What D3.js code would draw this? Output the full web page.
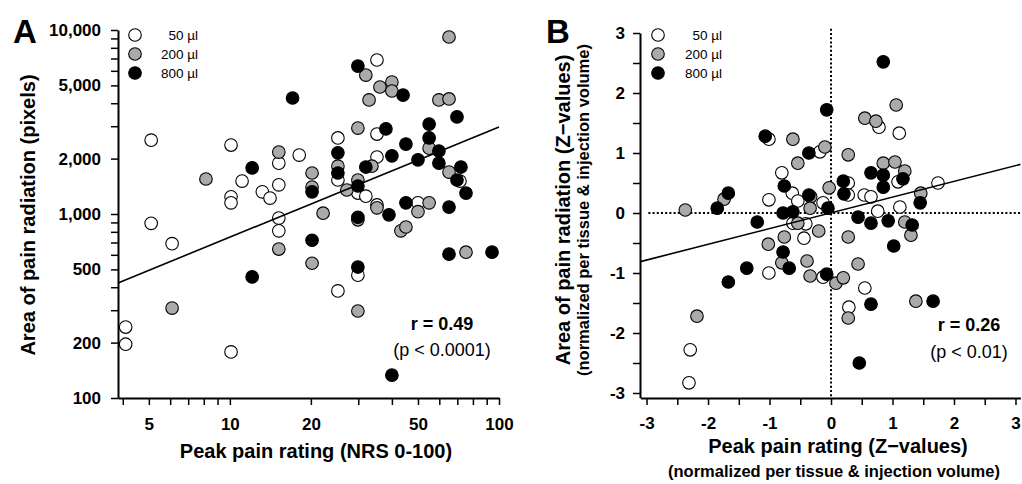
<!DOCTYPE html>
<html><head><meta charset="utf-8">
<script src="https://cdn.jsdelivr.net/npm/d3@7"></script>
<style>
body{margin:0;background:#fff;}
svg text{font-family:"Liberation Sans",Arial,sans-serif;}
</style></head>
<body><svg id="c" width="1022" height="484"></svg>
<script>
// ---------- DATA ----------
const groups = ["50 µl", "200 µl", "800 µl"];
const groupFill = ["#ffffff", "#aaaaaa", "#000000"];

// Panel A: Peak pain rating (NRS) vs area (pixels)
const aWhiteX = [4.1,4.1,5.1,5.1,6.1,10.1,10.1,10.1,11.1,10.1,13.2,14.1,15.2,15.2,15.2,15.2,18.1,25.2,25.2,25.2,29.9,32.0,29.9,35.2,35.2,35.2,35.2,50,71.6];
const aWhiteY = [243,196,2520,890,690,2370,1240,1150,1510,178,1320,1220,1890,1440,950,810,2090,2590,1530,382,1300,1250,465,6870,2720,2040,1120,1150,1510];
const aGrayX = [6.1,8.15,65.2,32.0,36.1,40,40,32.9,59.8,65.2,29.9,55,15.2,25.2,33.7,20.2,20.2,27.2,29.9,65.2,35.2,55,50,22.2,29.9,43.2,45.1,15.2,20.2,29.9,75.4];
const aGrayY = [308,1550,9160,5690,4900,5210,4660,4170,4170,4220,2930,2280,2170,1820,1820,1670,1400,1350,1530,1690,1080,1150,1030,1010,930,810,850,645,540,297,620];
const aBlackX = [12.1,12.1,17.1,29.9,44,69.8,38,55,55,45.1,59.8,25.2,40,50,59.8,72.2,32,25.2,20.2,29.9,69.8,75.4,39,45.1,65.2,29.9,20.2,29.9,65.2,94.2,40];
const aBlackY = [1780,455,4270,6370,4430,3370,2900,3080,2590,2400,2200,2150,2070,1970,1890,1800,1800,1670,1320,1420,1530,1300,990,1150,1090,960,720,515,605,620,133];
const aRegX = [3.84, 100];
const aRegY = [422, 2970];
const aXTickLabels = [5, 10, 20, 50, 100];
const aYTickLabels = [100, 200, 500, 1000, 2000, 5000, 10000];
const aStats = ["r = 0.49", "(p < 0.0001)"];

// Panel B: Z-values
const bWhiteX = [-1.01,-0.80,-0.63,-1.01,-0.54,-0.13,-0.62,-0.41,-0.44,-1.01,-0.13,-2.29,-2.31,-0.18,0.78,1.11,1.09,0.28,0.28,0.54,0.65,0.76,1.12,1.74,0.55,0.29];
const bWhiteY = [1.23,0.67,0.33,0.22,0.20,0.17,-0.17,-0.18,-0.42,-1.0,-1.07,-2.28,-2.83,1.02,1.43,1.33,0.52,0.50,0.30,0.30,0.27,0.03,0.10,0.50,-1.25,-1.57];
const bGrayX = [-2.37,-1.74,-0.62,-0.54,-0.10,-0.33,-0.34,-0.03,-0.54,-0.20,-1.02,-0.76,-0.80,-0.39,-0.34,-2.18,1.06,0.55,0.73,0.28,0.85,1.04,1.20,1.46,1.20,1.30,0.28,0.08,0.20,0.44,0.28,1.38];
const bGrayY = [0.05,0.23,1.23,0.83,1.10,0.27,0.08,0.42,-0.17,-0.30,-0.52,-0.40,-0.83,-0.80,-1.05,-1.72,1.80,1.58,1.53,0.97,0.83,0.85,0.70,0.33,-0.15,-0.37,-0.40,-1.17,-1.08,-0.85,-1.75,-1.47];
const bBlackX = [-1.85,-1.67,-1.20,-1.07,-0.36,-0.07,-0.76,-0.36,-0.78,-0.62,-0.78,-0.68,-0.07,-1.37,-1.67,0.85,0.65,0.85,1.17,0.85,0.20,0.21,1.45,-0.05,0.44,0.65,0.93,1.32,1.02,0.65,1.66,0.46];
const bBlackY = [0.08,0.33,-0.15,1.28,1.00,1.72,0.45,0.30,0.0,0.02,-0.65,-0.92,-1.02,-0.92,-1.15,2.52,0.67,0.63,0.57,0.43,0.53,0.32,0.17,0.08,-0.07,-0.17,-0.13,-0.20,-0.55,-1.52,-1.47,-2.50];
const bRegX = [-3.1, 3.08];
const bRegY = [-0.81, 0.81];
const bTickLabels = [-3, -2, -1, 0, 1, 2, 3];
const bStats = ["r = 0.26", "(p < 0.01)"];

// ---------- DRAW ----------
const svg = d3.select("#c");
const R = 6.3;

function styleAxis(g) {
  g.select(".domain").attr("stroke", "#000").attr("stroke-width", 2);
  g.selectAll(".tick line").attr("stroke", "#000").attr("stroke-width", 1.5);
  g.selectAll(".tick text").attr("font-size", 17).attr("font-weight", "bold").attr("fill", "#000")
    .attr("font-family", "'Liberation Sans',Arial,sans-serif");
}

function points(g, xs, ys, fill, x, y) {
  g.selectAll(null).data(xs.map((v, i) => [v, ys[i]])).enter().append("circle")
    .attr("cx", d => x(d[0])).attr("cy", d => y(d[1])).attr("r", R)
    .attr("fill", fill).attr("stroke", "#000").attr("stroke-width", 1.1);
}

function legend(cx, textRight) {
  groups.forEach((gname, i) => {
    const cy = 35 + i * 19;
    svg.append("circle").attr("cx", cx).attr("cy", cy).attr("r", R)
      .attr("fill", groupFill[i]).attr("stroke", "#000").attr("stroke-width", 1.1);
    svg.append("text").attr("x", textRight).attr("y", cy + 5).attr("text-anchor", "end")
      .attr("font-size", 13.5).text(gname);
  });
}

// ===== Panel A =====
const ax = d3.scaleLog().domain([3.84, 100]).range([118, 499]);
const ay = d3.scaleLog().domain([100, 10000]).range([398, 30]);

const aXTicks = [];
for (let v = 4; v <= 9; v++) aXTicks.push(v);
for (let v = 10; v <= 100; v += 10) aXTicks.push(v);
const aYTicks = [];
for (let v = 100; v < 1000; v += 100) aYTicks.push(v);
for (let v = 1000; v <= 10000; v += 1000) aYTicks.push(v);

const fmtA = d3.format(",");
svg.append("g").attr("transform", "translate(0,398)")
  .call(d3.axisBottom(ax).tickValues(aXTicks).tickSize(7).tickSizeOuter(0).tickPadding(13)
    .tickFormat(d => aXTickLabels.includes(d) ? String(d) : ""))
  .call(styleAxis);
svg.append("g").attr("transform", "translate(118,0)")
  .call(d3.axisLeft(ay).tickValues(aYTicks).tickSize(7).tickSizeOuter(0).tickPadding(10)
    .tickFormat(d => aYTickLabels.includes(d) ? fmtA(d) : ""))
  .call(styleAxis);

const aPts = svg.append("g");
points(aPts, aWhiteX, aWhiteY, groupFill[0], ax, ay);
points(aPts, aGrayX, aGrayY, groupFill[1], ax, ay);
points(aPts, aBlackX, aBlackY, groupFill[2], ax, ay);

svg.append("line").attr("x1", ax(aRegX[0])).attr("y1", ay(aRegY[0]))
  .attr("x2", ax(aRegX[1])).attr("y2", ay(aRegY[1])).attr("stroke", "#000").attr("stroke-width", 1.6);

svg.append("text").attr("x", 442).attr("y", 330).attr("text-anchor", "middle")
  .attr("font-size", 18).attr("font-weight", "bold").text(aStats[0]);
svg.append("text").attr("x", 442).attr("y", 356).attr("text-anchor", "middle")
  .attr("font-size", 18).text(aStats[1]);

legend(135, 198);

svg.append("text").attr("x", 13).attr("y", 43).attr("font-size", 33).attr("font-weight", "bold").text("A");
svg.append("text").attr("transform", "translate(35,215) rotate(-90)").attr("text-anchor", "middle")
  .attr("font-size", 20).attr("font-weight", "bold").text("Area of pain radiation (pixels)");
svg.append("text").attr("x", 316).attr("y", 458).attr("text-anchor", "middle")
  .attr("font-size", 20).attr("font-weight", "bold").text("Peak pain rating (NRS 0-100)");

// ===== Panel B =====
const bx = d3.scaleLinear().domain([-3.1, 3.08]).range([640.4, 1020.4]);
const by = d3.scaleLinear().domain([-3.08, 3]).range([397.8, 33]);
const bTicks = d3.range(-3, 3.01, 0.5);

svg.append("g").attr("transform", "translate(0,398)")
  .call(d3.axisBottom(bx).tickValues(bTicks).tickSize(7).tickSizeOuter(0).tickPadding(12)
    .tickFormat(d => bTickLabels.includes(d) ? String(d) : ""))
  .call(styleAxis);
svg.append("g").attr("transform", "translate(640,0)")
  .call(d3.axisLeft(by).tickValues(bTicks).tickSize(7).tickSizeOuter(0).tickPadding(8)
    .tickFormat(d => bTickLabels.includes(d) ? String(d) : ""))
  .call(styleAxis);

// dotted zero lines
svg.append("line").attr("x1", bx(-2.97)).attr("x2", bx(3.08)).attr("y1", by(0)).attr("y2", by(0))
  .attr("stroke", "#000").attr("stroke-width", 2).attr("stroke-dasharray", "2,2.2");
svg.append("line").attr("x1", bx(0)).attr("x2", bx(0)).attr("y1", by(3.07)).attr("y2", by(-3.08))
  .attr("stroke", "#000").attr("stroke-width", 2).attr("stroke-dasharray", "2,2.2");

const bPts = svg.append("g");
points(bPts, bWhiteX, bWhiteY, groupFill[0], bx, by);
points(bPts, bGrayX, bGrayY, groupFill[1], bx, by);
points(bPts, bBlackX, bBlackY, groupFill[2], bx, by);

svg.append("line").attr("x1", bx(bRegX[0])).attr("y1", by(bRegY[0]))
  .attr("x2", bx(bRegX[1])).attr("y2", by(bRegY[1])).attr("stroke", "#000").attr("stroke-width", 1.6);

svg.append("text").attr("x", 969).attr("y", 331).attr("text-anchor", "middle")
  .attr("font-size", 18).attr("font-weight", "bold").text(bStats[0]);
svg.append("text").attr("x", 969).attr("y", 358).attr("text-anchor", "middle")
  .attr("font-size", 18).text(bStats[1]);

legend(658, 722);

svg.append("text").attr("x", 546).attr("y", 43).attr("font-size", 33).attr("font-weight", "bold").text("B");
svg.append("text").attr("transform", "translate(570,210) rotate(-90)").attr("text-anchor", "middle")
  .attr("font-size", 20).attr("font-weight", "bold").text("Area of pain radiation (Z\u2212values)");
svg.append("text").attr("transform", "translate(589,210) rotate(-90)").attr("text-anchor", "middle")
  .attr("font-size", 16.5).attr("font-weight", "bold").text("(normalized per tissue & injection volume)");
svg.append("text").attr("x", 838).attr("y", 453).attr("text-anchor", "middle")
  .attr("font-size", 20).attr("font-weight", "bold").text("Peak pain rating (Z\u2212values)");
svg.append("text").attr("x", 834).attr("y", 477).attr("text-anchor", "middle")
  .attr("font-size", 16.5).attr("font-weight", "bold").text("(normalized per tissue & injection volume)");
</script>
</body></html>
